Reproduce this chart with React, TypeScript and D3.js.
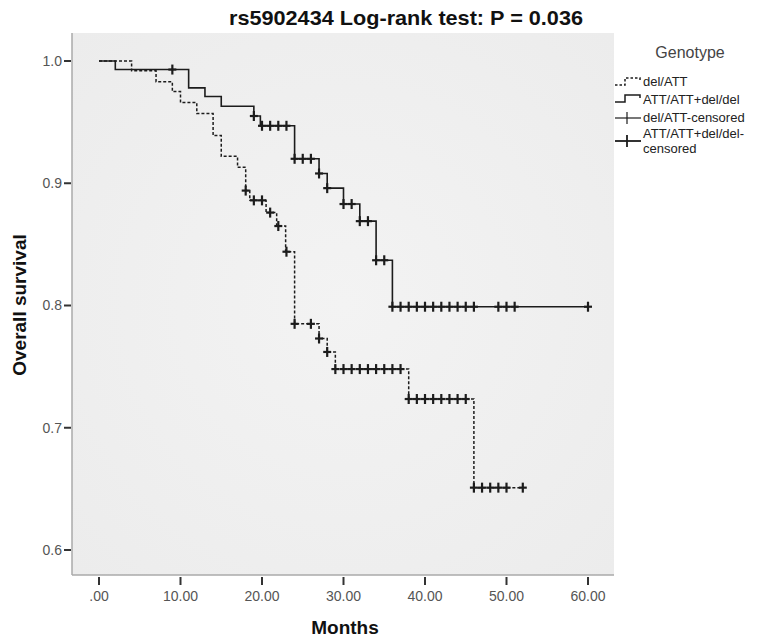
import React from "react";
import * as d3 from "d3";

// ---- data ----
const solidStepTimes = [0, 2, 11, 13, 15, 19, 19.8, 24, 27, 28, 30, 32, 34, 36];
const solidStepSurv = [1.0, 0.993, 0.978, 0.971, 0.963, 0.955, 0.947, 0.92, 0.908, 0.896, 0.883, 0.869, 0.837, 0.799];
const solidEnd = 60;
const solidCensorTimes = [9, 19, 20, 21, 22, 23, 24, 25, 26, 27, 28, 30, 31, 32, 33, 34, 35, 36, 37, 38, 39, 40, 41, 42, 43, 44, 45, 46, 49, 50, 51, 60];

const dashStepTimes = [0, 4, 7, 9, 10, 12, 14, 15, 17, 18, 18.5, 20.5, 21.8, 22.9, 24, 27, 28, 29, 38, 46];
const dashStepSurv = [1.0, 0.992, 0.983, 0.975, 0.966, 0.957, 0.939, 0.922, 0.913, 0.894, 0.886, 0.876, 0.865, 0.844, 0.785, 0.773, 0.762, 0.748, 0.7235, 0.651];
const dashEnd = 52;
const dashCensorTimes = [18, 19, 20, 21, 22, 23, 24, 26, 27, 28, 29, 30, 31, 32, 33, 34, 35, 36, 37, 38, 39, 40, 41, 42, 43, 44, 45, 46, 47, 48, 49, 50, 52];

const xTicks = [0, 10, 20, 30, 40, 50, 60];
const yTicks = [0.6, 0.7, 0.8, 0.9, 1.0];
const legendLabels = ["del/ATT", "ATT/ATT+del/del", "del/ATT-censored", "ATT/ATT+del/del-"];

const titleText = "rs5902434 Log-rank test: P = 0.036";

// ---- layout ----
const W = 761, H = 638;
const panel = { left: 72, top: 33, right: 614, bottom: 575 };

const x = d3.scaleLinear().domain([0, 60]).range([99, 588]);
const y = d3.scaleLinear().domain([0.6, 1.0]).range([550, 61]);

function survAt(times: number[], surv: number[], t: number) {
  let s = surv[0];
  for (let i = 0; i < times.length; i++) {
    if (times[i] <= t) s = surv[i];
  }
  return s;
}

function stepPath(times: number[], surv: number[], end: number) {
  const p = d3.path();
  p.moveTo(x(times[0]), y(surv[0]));
  for (let i = 1; i < times.length; i++) {
    p.lineTo(x(times[i]), y(surv[i - 1]));
    p.lineTo(x(times[i]), y(surv[i]));
  }
  p.lineTo(x(end), y(surv[surv.length - 1]));
  return p.toString();
}

const LINE = "#1c1c1c";

function Cross({ cx, cy, w }: { cx: number; cy: number; w: number }) {
  return (
    <g stroke={LINE} strokeWidth={w}>
      <line x1={cx} x2={cx} y1={cy - 5} y2={cy + 5} />
      <line x1={cx - 4} x2={cx + 4} y1={cy} y2={cy} />
    </g>
  );
}

export default function App() {
  const solidD = stepPath(solidStepTimes, solidStepSurv, solidEnd);
  const dashD = stepPath(dashStepTimes, dashStepSurv, dashEnd);
  const font = "Arial, 'Liberation Sans', sans-serif";
  return (
    <svg width={W} height={H} style={{ position: "absolute", left: 0, top: 0, background: "#fff" }}>
      <defs>
        <radialGradient id="bg" cx="50%" cy="50%" r="70%">
          <stop offset="0%" stopColor="#f3f3f3" />
          <stop offset="100%" stopColor="#ececec" />
        </radialGradient>
      </defs>
      <rect x={0} y={0} width={W} height={H} fill="#fff" />
      <text x={406} y={25} textAnchor="middle" fontFamily={font} fontWeight="bold" fontSize={21} fill="#111"
        textLength={354} lengthAdjust="spacingAndGlyphs">
        {titleText}
      </text>
      <rect x={panel.left} y={panel.top} width={panel.right - panel.left} height={panel.bottom - panel.top} fill="url(#bg)" />
      <line x1={panel.left} x2={panel.left} y1={panel.top} y2={panel.bottom} stroke="#aaa" strokeWidth={1.5} />
      <line x1={panel.left} x2={panel.right} y1={panel.bottom} y2={panel.bottom} stroke="#aaa" strokeWidth={1.5} />

      {yTicks.map((t) => (
        <g key={"y" + t}>
          <line x1={64} x2={71} y1={y(t)} y2={y(t)} stroke="#333" strokeWidth={2} />
          <text x={62} y={y(t)} dy="0.35em" textAnchor="end" fontFamily={font} fontSize={14} fill="#555">
            {t.toFixed(1)}
          </text>
        </g>
      ))}
      {xTicks.map((t) => (
        <g key={"x" + t}>
          <line x1={x(t)} x2={x(t)} y1={577} y2={585} stroke="#333" strokeWidth={2} />
          <text x={x(t)} y={601} textAnchor="middle" fontFamily={font} fontSize={14} fill="#555">
            {t === 0 ? ".00" : t.toFixed(2)}
          </text>
        </g>
      ))}

      <text x={345} y={634} textAnchor="middle" fontFamily={font} fontWeight="bold" fontSize={19} fill="#111">
        Months
      </text>
      <text transform={`translate(26,305) rotate(-90)`} textAnchor="middle" fontFamily={font} fontWeight="bold" fontSize={19} fill="#111">
        Overall survival
      </text>

      <path d={dashD} fill="none" stroke={LINE} strokeWidth={1.5} strokeDasharray="3,2" />
      <path d={solidD} fill="none" stroke={LINE} strokeWidth={1.6} />

      {dashCensorTimes.map((t, i) => (
        <Cross key={"dc" + i} cx={x(t)} cy={y(survAt(dashStepTimes, dashStepSurv, t))} w={2.2} />
      ))}
      {solidCensorTimes.map((t, i) => (
        <Cross key={"sc" + i} cx={x(t)} cy={y(survAt(solidStepTimes, solidStepSurv, t))} w={2.2} />
      ))}

      {/* legend */}
      <text x={690} y={58} textAnchor="middle" fontFamily={font} fontSize={16} fill="#444">
        Genotype
      </text>
      <g fontFamily={font} fontSize={13} fill="#222">
        <path d="M615,85 L625,85 L625,78 L640,78 L640,81" fill="none" stroke={LINE} strokeWidth={1.5} strokeDasharray="2.5,2" />
        <text x={643} y={86}>{legendLabels[0]}</text>
        <path d="M615,102 L625,102 L625,95 L640,95 L640,98" fill="none" stroke={LINE} strokeWidth={1.5} />
        <text x={643} y={104}>{legendLabels[1]}</text>
        <line x1={615} x2={641} y1={118} y2={118} stroke={LINE} strokeWidth={1.2} />
        <line x1={627} x2={627} y1={112} y2={124} stroke={LINE} strokeWidth={1.2} />
        <text x={643} y={122}>{legendLabels[2]}</text>
        <line x1={615} x2={641} y1={141} y2={141} stroke={LINE} strokeWidth={1.8} />
        <line x1={627} x2={627} y1={135} y2={147} stroke={LINE} strokeWidth={1.8} />
        <text x={643} y={138}>{legendLabels[3]}</text>
        <text x={643} y={153}>censored</text>
      </g>
    </svg>
  );
}
